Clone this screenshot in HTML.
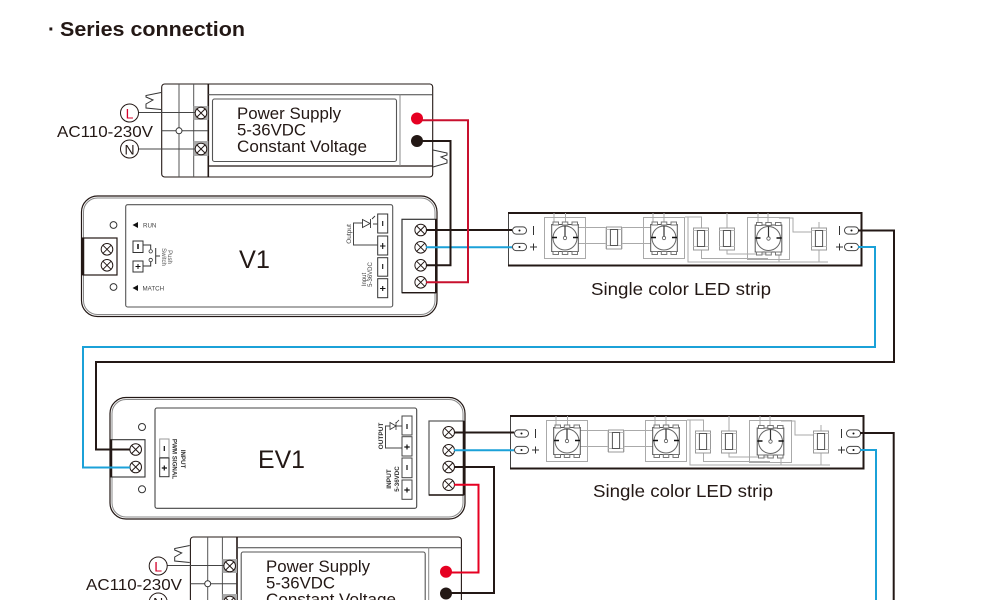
<!DOCTYPE html>
<html><head><meta charset="utf-8"><style>
html,body{margin:0;padding:0;background:#fff}
svg{display:block}
text{font-family:"Liberation Sans",sans-serif;fill:#231815}
</style></head><body>
<svg width="1000" height="600" viewBox="0 0 1000 600" xmlns="http://www.w3.org/2000/svg">
<defs>
<g id="screw"><circle r="5.8" fill="#fff" stroke="#231815" stroke-width="1"/><path d="M-4,-4L4,4M4,-4L-4,4" stroke="#231815" stroke-width="1"/></g>
<g id="ledu">
<rect x="-13.3" y="-13.5" width="26.6" height="27" fill="#fff" stroke="#555" stroke-width="1"/>
<g fill="#fff" stroke="#777" stroke-width="1"><rect x="-12" y="-16" width="5.5" height="3"/><rect x="-2.7" y="-16" width="5.5" height="3"/><rect x="7" y="-16" width="5.5" height="3"/><rect x="-12" y="13.5" width="5.5" height="3"/><rect x="-2.7" y="13.5" width="5.5" height="3"/><rect x="7" y="13.5" width="5.5" height="3"/></g>
<circle r="12" fill="#fff" stroke="#666" stroke-width="1"/>
<path d="M0,-12V-1" stroke="#333" stroke-width="1.2"/><circle r="1.7" fill="#fff" stroke="#555" stroke-width=".8"/>
<path d="M-13,-.5H-8M8,-.5H13" stroke="#111" stroke-width="1.6"/>
</g>
<g id="res"><path d="M-7.5,-11H7.5V11H-7.5Z" fill="#fff" stroke="#999" stroke-width="1"/><path d="M-7.5,-8.5H7.5M-7.5,7.5H7.5" stroke="#bbb" stroke-width="1"/><rect x="-3.6" y="-8.5" width="7.2" height="16" fill="#fff" stroke="#555" stroke-width="1"/></g>
<g id="pad"><rect x="-7" y="-3.6" width="14" height="7.2" rx="3.6" fill="#fff" stroke="#444" stroke-width="1"/><circle r="1" fill="#111"/></g>
<g id="strip">
<rect x="508.5" y="213" width="353" height="52.5" fill="#fff" stroke="#444" stroke-width="1"/>
<path d="M508,213H861.5V265.5H508" fill="none" stroke="#231815" stroke-width="2"/>
<g fill="none" stroke="#aaa" stroke-width="1">
<rect x="544.5" y="217.5" width="41" height="41"/>
<rect x="643.5" y="217.5" width="41" height="41"/>
<path d="M554,213V224M565.5,213V224M653,213V224M664,213V224"/>
<path d="M578,227.5H651M578,243.5H651M685,217H688V262H828"/>
<path d="M688,217H701.5V228M727,213V228M701.5,250V258.5H768M727,250V254H768"/>
<rect x="747.5" y="217.5" width="42" height="42"/>
<path d="M758,213V223M768,213V223M779,218H793V232H811M819,222V262M779,253V262"/>
<path d="M606,227V249M622,227V249" stroke="#bbb"/>
</g>
<use href="#ledu" x="565" y="238"/><use href="#ledu" x="664" y="238"/><use href="#ledu" x="768.5" y="238.5"/>
<use href="#res" x="614" y="238"/><use href="#res" x="701" y="239"/><use href="#res" x="727" y="239"/><use href="#res" x="819" y="239"/>
<use href="#pad" x="519.5" y="230.5"/><use href="#pad" x="519.5" y="247"/><use href="#pad" x="851.5" y="230.5"/><use href="#pad" x="851.5" y="247"/>
<path d="M533.5,226V235M530,247H537M533.5,243.5V250.5M839.5,226V235M836,247H843M839.5,243.5V250.5" stroke="#333" stroke-width="1" fill="none"/>
</g>
<g id="psu">
<rect x="161.7" y="84" width="271" height="93" rx="3" fill="#fff" stroke="#231815" stroke-width="1.1"/>
<path d="M179,84V177" stroke="#555" stroke-width="1" fill="none"/>
<path d="M193.7,84V177" stroke="#555" stroke-width="1"/>
<path d="M208.3,84V177" stroke="#231815" stroke-width="1.6"/>
<path d="M208,94.7H432.7" stroke="#444" stroke-width="1"/>
<path d="M208,166H432.7" stroke="#231815" stroke-width="1.3"/>
<path d="M400,94.7V166" stroke="#888" stroke-width="1"/>
<rect x="212.5" y="99" width="184" height="62.5" rx="2" fill="#fff" stroke="#555" stroke-width="1.1"/>
<rect x="193.7" y="106" width="14.6" height="14" fill="#aaa"/>
<rect x="193.7" y="141" width="14.6" height="15" fill="#aaa"/>
<use href="#screw" x="201" y="113"/><use href="#screw" x="201" y="149"/>
<path d="M138,112.5H195M138,149H195M161.7,130.8H208" stroke="#444" stroke-width="1"/>
<circle cx="179" cy="130.8" r="3" fill="#fff" stroke="#333" stroke-width="1"/>
<path d="M161,92.5L146,95.5V97L153,100L146,104V108L161,109.5" fill="none" stroke="#333" stroke-width="1"/>
<path d="M433,150L447,153V155L441,157L447,160V163L433,167" fill="none" stroke="#333" stroke-width="1"/>
<circle cx="129.5" cy="113" r="9" fill="#fff" stroke="#231815" stroke-width="1"/>
<circle cx="129.5" cy="149" r="9" fill="#fff" stroke="#231815" stroke-width="1"/>
</g>
</defs>

<text x="48" y="36" font-size="20.5" font-weight="bold">·</text>
<text x="60" y="36" font-size="20.5" font-weight="bold" textLength="185" lengthAdjust="spacingAndGlyphs">Series connection</text>

<!-- PSU 1 -->
<use href="#psu"/>
<text x="129.5" y="118.5" font-size="14" text-anchor="middle" style="fill:#d4002a">L</text>
<text x="129.5" y="154.5" font-size="14" text-anchor="middle">N</text>
<text x="57" y="137" font-size="15.5" textLength="96" lengthAdjust="spacingAndGlyphs">AC110-230V</text>
<text x="237" y="119" font-size="16.5" textLength="104" lengthAdjust="spacingAndGlyphs">Power Supply</text>
<text x="237" y="135.5" font-size="16.5" textLength="69" lengthAdjust="spacingAndGlyphs">5-36VDC</text>
<text x="237" y="152" font-size="16.5" textLength="130" lengthAdjust="spacingAndGlyphs">Constant Voltage</text>

<!-- V1 -->
<rect x="81.5" y="196" width="355.5" height="120.5" rx="16" fill="#fff" stroke="#231815" stroke-width="1.2"/>
<rect x="83.5" y="198" width="351.5" height="116.5" rx="14" fill="none" stroke="#888" stroke-width="1"/>
<rect x="125.7" y="204.7" width="267" height="102.3" rx="2" fill="#fff" stroke="#555" stroke-width="1.1"/>
<rect x="83" y="238" width="34" height="37" fill="#fff" stroke="#231815" stroke-width="1.2"/>
<path d="M83,237.5V275" stroke="#231815" stroke-width="2.5"/>
<use href="#screw" x="107" y="249.3"/><use href="#screw" x="107" y="265.3"/>
<circle cx="113.5" cy="225" r="3.4" fill="#fff" stroke="#333" stroke-width="1"/>
<circle cx="113.5" cy="287" r="3.4" fill="#fff" stroke="#333" stroke-width="1"/>
<path d="M132.5,225L138,222V228ZM132.5,288L138,285V291Z" fill="#111"/>
<text x="143" y="227.5" font-size="6.2" style="fill:#444">RUN</text>
<text x="142.5" y="290.5" font-size="6.2" style="fill:#444">MATCH</text>
<g fill="#fff" stroke="#333" stroke-width="1">
<rect x="133" y="241" width="10" height="11.5"/><rect x="133" y="261" width="10" height="11"/>
</g>
<path d="M138,244V249" stroke="#111" stroke-width="1.5"/>
<path d="M135.5,266.5H140.5M138,264V269" stroke="#111" stroke-width="1"/>
<path d="M143,245H150.7V249M143,266H150.7V262M155.7,248V264M155.7,256H160" fill="none" stroke="#333" stroke-width="1"/>
<circle cx="150.7" cy="251.3" r="1.7" fill="#fff" stroke="#333" stroke-width=".8"/>
<circle cx="150.7" cy="260" r="1.7" fill="#fff" stroke="#333" stroke-width=".8"/>
<text transform="translate(168,257) rotate(90)" font-size="6" text-anchor="middle" style="fill:#555">Push</text>
<text transform="translate(162,257) rotate(90)" font-size="6" text-anchor="middle" style="fill:#555">Switch</text>
<text x="239" y="268" font-size="25" textLength="31" lengthAdjust="spacingAndGlyphs">V1</text>
<!-- V1 right boxes -->
<g fill="#fff" stroke="#333" stroke-width="1">
<rect x="377.7" y="214" width="10" height="19"/><rect x="377.7" y="236" width="10" height="19"/><rect x="377.7" y="257.7" width="10" height="18.5"/><rect x="377.7" y="278.7" width="10" height="19"/>
</g>
<path d="M382.7,221V226M382.7,264V269M380,246H385.5M382.7,243V249M380,288.5H385.5M382.7,286V291" stroke="#111" stroke-width="1.1"/>
<path d="M378,224H373M378,245H353.5V223H362.5" fill="none" stroke="#444" stroke-width="1"/>
<path d="M362.5,219.5L370,223.5L362.5,227.5ZM370.5,219V228M372,219L375,216" fill="#fff" stroke="#333" stroke-width=".9"/>
<text transform="translate(351,234) rotate(-90)" font-size="6.5" text-anchor="middle" style="fill:#444">Output</text>
<text transform="translate(366,279.5) rotate(-90)" font-size="6" text-anchor="middle" style="fill:#444">Input</text>
<text transform="translate(372,274.5) rotate(-90)" font-size="6" text-anchor="middle" style="fill:#444">5-36VDC</text>
<rect x="402" y="219.3" width="34" height="73.4" fill="#fff" stroke="#333" stroke-width="1.2"/>
<path d="M402,292.7H436" stroke="#231815" stroke-width="1.4"/>
<path d="M436,219V293" stroke="#231815" stroke-width="2"/>
<use href="#screw" x="420.7" y="230"/><use href="#screw" x="420.7" y="247.3"/><use href="#screw" x="420.7" y="265.3"/><use href="#screw" x="420.7" y="282.3"/>

<!-- Strips -->
<use href="#strip"/>
<use href="#strip" x="2" y="203"/>
<text x="591" y="295" font-size="17.5" textLength="180" lengthAdjust="spacingAndGlyphs">Single color LED strip</text>
<text x="593" y="497" font-size="17.5" textLength="180" lengthAdjust="spacingAndGlyphs">Single color LED strip</text>

<!-- EV1 -->
<rect x="110" y="397.5" width="355" height="121.5" rx="16" fill="#fff" stroke="#231815" stroke-width="1.2"/>
<rect x="112" y="399.5" width="351" height="117.5" rx="14" fill="none" stroke="#888" stroke-width="1"/>
<rect x="155" y="408" width="261.7" height="100.3" rx="2" fill="#fff" stroke="#444" stroke-width="1.1"/>
<rect x="111" y="439.7" width="34" height="37.3" fill="#fff" stroke="#333" stroke-width="1.1"/>
<path d="M111,439.5V477" stroke="#231815" stroke-width="2.5"/>
<use href="#screw" x="135.7" y="449.5"/><use href="#screw" x="135.7" y="467"/>
<circle cx="142" cy="427" r="3.5" fill="#fff" stroke="#333" stroke-width="1"/>
<circle cx="142" cy="489.3" r="3.5" fill="#fff" stroke="#333" stroke-width="1"/>
<rect x="159.7" y="439" width="9.3" height="18.5" fill="#fff" stroke="#999" stroke-width="1"/>
<rect x="159.7" y="458" width="9.3" height="18.7" fill="#fff" stroke="#333" stroke-width="1"/>
<path d="M164.3,446V451M161.8,468H167M164.3,465.5V470.5" stroke="#111" stroke-width="1.2"/>
<text transform="translate(181,459) rotate(90)" font-size="6.2" font-weight="bold" text-anchor="middle" style="fill:#333">INPUT</text>
<text transform="translate(172.5,459) rotate(90)" font-size="6.2" font-weight="bold" text-anchor="middle" style="fill:#333">PWM SIGNAL</text>
<text x="258" y="468" font-size="25" textLength="47" lengthAdjust="spacingAndGlyphs">EV1</text>
<g fill="#fff" stroke="#444" stroke-width="1">
<rect x="402" y="416" width="10" height="19"/><rect x="402" y="436.7" width="10" height="19.3"/><rect x="402" y="458" width="10" height="19.7"/><rect x="402" y="480" width="10" height="19.3"/>
</g>
<path d="M407,424V429M407,465V470M404.3,447H409.7M407,444.5V449.5M404.3,490H409.7M407,487.5V492.5" stroke="#111" stroke-width="1.2"/>
<path d="M402,426H395M402,448H385.5V426H390" fill="none" stroke="#444" stroke-width="1"/>
<path d="M390,422.5L396,426L390,429.5ZM396,422V430M396,423L399,420" fill="#fff" stroke="#333" stroke-width=".8"/>
<text transform="translate(383,436) rotate(-90)" font-size="6.5" font-weight="bold" text-anchor="middle" style="fill:#333">OUTPUT</text>
<text transform="translate(391,479) rotate(-90)" font-size="6.5" font-weight="bold" text-anchor="middle" style="fill:#333">INPUT</text>
<text transform="translate(399,479) rotate(-90)" font-size="6.2" font-weight="bold" text-anchor="middle" style="fill:#333">5-36VDC</text>
<rect x="429" y="421" width="34.7" height="74" fill="#fff" stroke="#555" stroke-width="1.2"/>
<path d="M429,495H463.7" stroke="#231815" stroke-width="1.4"/>
<path d="M463.7,421V495" stroke="#231815" stroke-width="2"/>
<use href="#screw" x="448.7" y="432.3"/><use href="#screw" x="448.7" y="450.3"/><use href="#screw" x="448.7" y="467"/><use href="#screw" x="448.7" y="484.7"/>

<!-- PSU 2 -->
<use href="#psu" x="28.7" y="453"/>
<text x="158.2" y="571.5" font-size="14" text-anchor="middle" style="fill:#d4002a">L</text>
<text x="158.2" y="607.5" font-size="14" text-anchor="middle">N</text>
<text x="86" y="590" font-size="15.5" textLength="96" lengthAdjust="spacingAndGlyphs">AC110-230V</text>
<text x="266" y="572" font-size="16.5" textLength="104" lengthAdjust="spacingAndGlyphs">Power Supply</text>
<text x="266" y="588.5" font-size="16.5" textLength="69" lengthAdjust="spacingAndGlyphs">5-36VDC</text>
<text x="266" y="605" font-size="16.5" textLength="130" lengthAdjust="spacingAndGlyphs">Constant Voltage</text>

<!-- Wires -->
<g fill="none" stroke-width="2">
<path d="M426,230H512" stroke="#231815"/>
<path d="M426,247.3H512" stroke="#1ba1d8"/>
<path d="M417,141H450.5V265.3H426" stroke="#231815"/>
<path d="M417,120.3H468V282.3H426" stroke="#c8102e"/>
<path d="M858,230.5H894V362H96V449.5H130" stroke="#231815"/>
<path d="M858,247H875V347H83V467.5H130" stroke="#1ba1d8"/>
<path d="M454,432.5H514" stroke="#231815"/>
<path d="M454,450.3H514" stroke="#1ba1d8"/>
<path d="M454,467H494V593H446" stroke="#231815"/>
<path d="M454,484.7H478.5V572.5H446" stroke="#e60022"/>
<path d="M860,433H893.7V600" stroke="#231815"/>
<path d="M860,450H876V600" stroke="#1ba1d8"/>
</g>
<circle cx="417" cy="118.5" r="6" fill="#e60022"/>
<circle cx="417" cy="141" r="6" fill="#231815"/>
<circle cx="446" cy="571.7" r="6" fill="#e60022"/>
<circle cx="446" cy="593.5" r="6" fill="#231815"/>
</svg>
</body></html>
